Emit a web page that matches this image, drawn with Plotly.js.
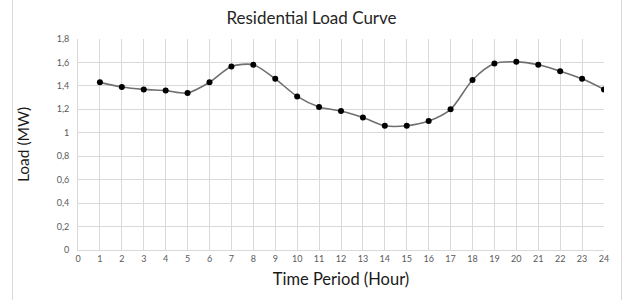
<!DOCTYPE html>
<html>
<head>
<meta charset="utf-8">
<script src="https://cdn.plot.ly/plotly-3.0.1.min.js"></script>
<style>
html,body{margin:0;padding:0;background:#fff;}
#wrap{position:relative;width:623px;height:300px;}
#chart{width:623px;height:300px;}
#bl{position:absolute;left:12px;top:0;width:0;height:300px;border-left:1px solid #d9d9d9;pointer-events:none;}
#br{position:absolute;left:621px;top:0;width:0;height:300px;border-left:1px solid #d9d9d9;pointer-events:none;}
</style>
</head>
<body>
<div id="wrap"><div id="chart"></div><div id="bl"></div><div id="br"></div></div>
<script>
var hours = [1,2,3,4,5,6,7,8,9,10,11,12,13,14,15,16,17,18,19,20,21,22,23,24];
var loadMW = [1.43,1.39,1.37,1.36,1.34,1.43,1.565,1.58,1.46,1.31,1.22,1.185,1.13,1.06,1.06,1.10,1.20,1.45,1.59,1.605,1.58,1.525,1.46,1.37];
var yTickVals = [0,0.2,0.4,0.6,0.8,1,1.2,1.4,1.6,1.8];
var yTickText = ["0","0,2","0,4","0,6","0,8","1","1,2","1,4","1,6","1,8"];
var xTickVals = [0,1,2,3,4,5,6,7,8,9,10,11,12,13,14,15,16,17,18,19,20,21,22,23,24];

var font = "Lato, 'Open Sans', sans-serif";
var trace = {
  x: hours, y: loadMW, type: 'scatter', mode: 'lines+markers',
  line: {shape: 'spline', smoothing: 0.8, color: '#6f6f6f', width: 1.6},
  marker: {color: '#000000', size: 6},
  showlegend: false, hoverinfo: 'none'
};
var layout = {
  width: 623, height: 300,
  margin: {l: 78, r: 19, t: 39, b: 50},
  paper_bgcolor: '#ffffff', plot_bgcolor: '#ffffff',
  font: {family: font, color: '#595959'},
  title: {text: 'Residential Load Curve', font: {family: font, size: 17, color: '#262626'}, x: 0.5, xref: 'container', y: 0.94, yref: 'container', yanchor: 'middle'},
  xaxis: {
    range: [0, 24], tickvals: xTickVals, ticktext: xTickVals.map(String),
    showgrid: true, gridcolor: '#d9d9d9', gridwidth: 1,
    showline: true, linecolor: '#d9d9d9', linewidth: 1, zeroline: false,
    ticks: '', tickfont: {size: 9, color: '#595959', family: font},
    title: {text: 'Time Period (Hour)', font: {size: 16.5, color: '#1a1a1a', family: font}, standoff: 10}
  },
  yaxis: {
    range: [0, 1.8], tickvals: yTickVals, ticktext: yTickText,
    showgrid: true, gridcolor: '#d9d9d9', gridwidth: 1,
    showline: true, linecolor: '#d9d9d9', zeroline: false,
    ticks: '', tickfont: {size: 9, color: '#595959', family: font}, ticklabelstandoff: 6,
    title: {text: 'Load (MW)', font: {size: 15.5, color: '#1a1a1a', family: font}, standoff: 23}
  }
};
Plotly.newPlot('chart', [trace], layout, {staticPlot: true, displayModeBar: false});
</script>
</body>
</html>
